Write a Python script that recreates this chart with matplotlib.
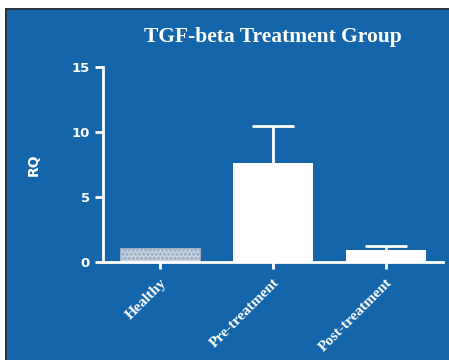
import matplotlib
matplotlib.use("Agg")
import matplotlib.pyplot as plt
from matplotlib.patches import Rectangle

# Data
groups = ["Healthy", "Pre-treatment", "Post-treatment"]
rq = [1.1, 7.6, 0.9]
rq_err = [0.0, 2.9, 0.3]

bg = "#1465aa"
rim = "#2a3340"

fig = plt.figure(figsize=(4.49, 3.6), dpi=100)
fig.patch.set_facecolor("white")
# blue panel, with a thin dark strip along its top and left edges
fig.patches.append(Rectangle((7 / 449, 0), 442 / 449, 350 / 360, transform=fig.transFigure,
                             facecolor=bg, edgecolor="none", zorder=-9))
fig.patches.append(Rectangle((5 / 449, 350 / 360), 444 / 449, 2 / 360, transform=fig.transFigure,
                             facecolor=rim, edgecolor="none", zorder=-8))
fig.patches.append(Rectangle((5 / 449, 0), 2 / 449, 352 / 360, transform=fig.transFigure,
                             facecolor=rim, edgecolor="none", zorder=-8))

ax = fig.add_axes([103 / 449, 1 - 262 / 360, 340 / 449, 195 / 360])
ax.set_facecolor("none")
ax.set_zorder(5)

x = range(len(groups))
faces = ["#ccd5e2", "white", "white"]
hatches = ["oooo", None, None]
edges = ["#a3b3c8", "white", "white"]
widths = [0.5, 0, 0]
for xi, v, e, fc, h, ec, lw in zip(x, rq, rq_err, faces, hatches, edges, widths):
    ax.bar(xi, v, width=0.71, color=fc, hatch=h, edgecolor=ec, linewidth=lw, zorder=2)
    if e > 0:
        # lower half sits behind the bar, only the upper whisker shows
        ax.errorbar(xi, v, yerr=e, fmt="none", ecolor="white",
                    elinewidth=2, capsize=15, capthick=2, zorder=1)

ax.set_xlim(-0.51, 2.51)
ax.set_ylim(0, 15)
ax.set_yticks([0, 5, 10, 15])
ax.set_xticks(list(x))
ax.set_xticklabels(groups, rotation=45, ha="right", rotation_mode="anchor",
                   family="Liberation Serif", fontweight="bold", fontsize=11, color="white")
for lbl in ax.get_yticklabels():
    lbl.set_fontweight("bold")
ax.tick_params(axis="y", colors="white", labelsize=9.5, width=2, length=6)
ax.tick_params(axis="x", colors="white", width=2, length=5, pad=5)

for s in ["top", "right"]:
    ax.spines[s].set_visible(False)
for s in ["left", "bottom"]:
    ax.spines[s].set_color("white")
    ax.spines[s].set_linewidth(2)

ax.set_ylabel("RQ", color="white", fontweight="bold", fontsize=10, labelpad=22)

fig.text(273 / 449, 1 - 37 / 360, "TGF-beta Treatment Group", ha="center", va="center",
         family="Liberation Serif", fontweight="bold", fontsize=15.5, color="white")

fig.savefig("out.png", dpi=100)
